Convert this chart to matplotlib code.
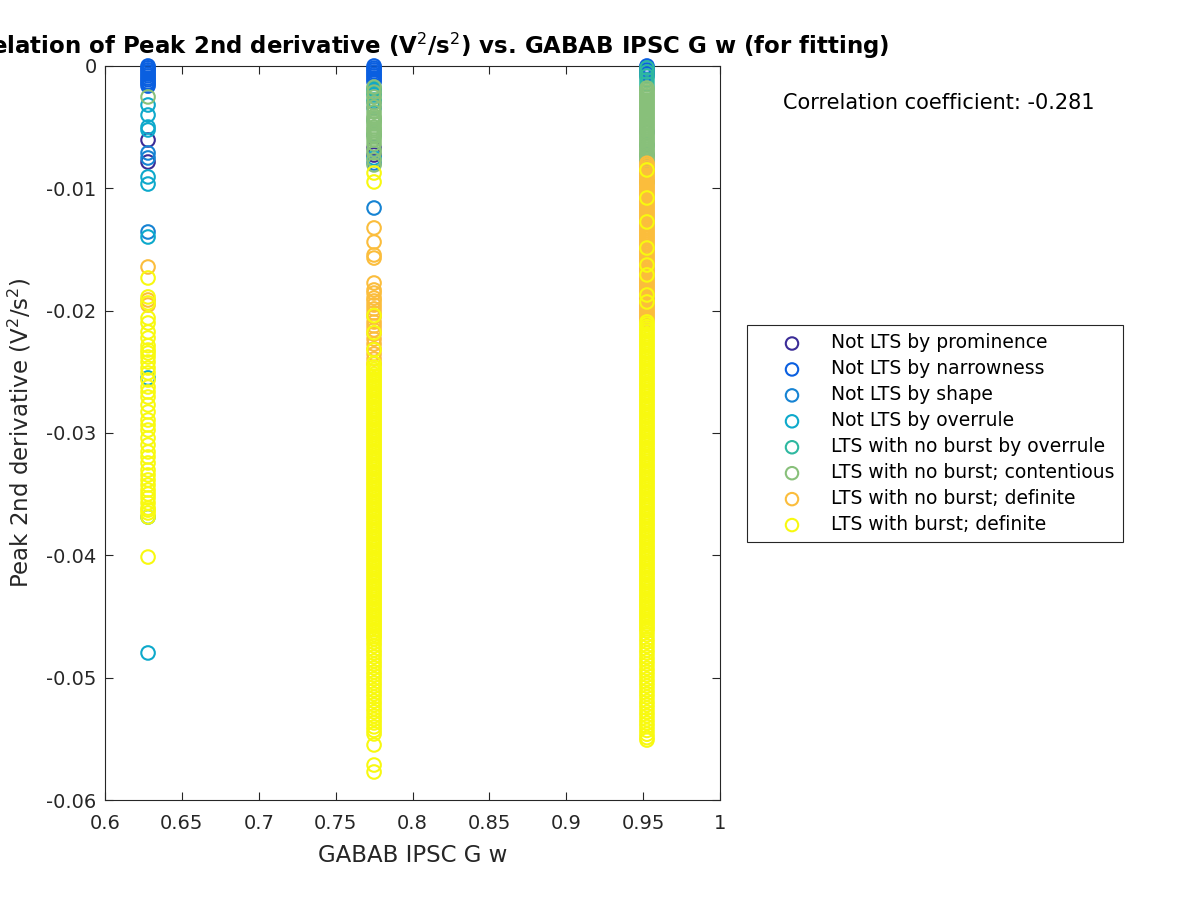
import numpy as np
import matplotlib
matplotlib.use("Agg")
import matplotlib.pyplot as plt

plt.rcParams['font.family'] = ['DejaVu Sans']
plt.rcParams['axes.unicode_minus'] = False

# x positions of the three parameter values
x_vals = [0.628, 0.775, 0.9525]

# legend labels and colours
labels = ["Not LTS by prominence", "Not LTS by narrowness", "Not LTS by shape",
          "Not LTS by overrule", "LTS with no burst by overrule",
          "LTS with no burst; contentious", "LTS with no burst; definite",
          "LTS with burst; definite"]
colors = ["#3b2c97", "#0a5fe0", "#1683d3", "#0da9cb", "#2eb8a0", "#88c07a",
          "#fbbd3c", "#f8f90f"]

# peak 2nd derivative magnitudes in units of 1e-4 V^2/s^2 (plotted negative)
# column 1: x = 0.628
c1_prom = [60.5, 78.5]
c1_narrow = [0, 1.5, 3.2, 4.8, 6.6, 8.1, 9.9, 11.3, 13.2, 14.6, 16.4]
c1_shape = [71.1, 75.2, 135.7]
c1_over = [31.9, 40.1, 49.9, 52.3, 90.7, 96.5, 139.8, 255.0, 368.7, 479.8]
c1_ltsover = []
c1_cont = [25.3]
c1_nob = [164.3, 191.3, 195.4]
c1_burst = [173.3, 188.8, 193.7, 206.0, 210.1, 217.4, 222.3, 228.6, 232.2, 234.6,
            237.9, 242.0, 246.9, 250.9, 256.7, 262.4, 266.5, 270.6, 277.1, 282.8,
            289.4, 293.5, 297.6, 304.1, 309.8, 315.5, 319.6, 324.5, 330.3, 334.3,
            338.4, 342.5, 346.6, 349.9, 353.1, 357.2, 361.4, 363.0, 365.4, 368.7,
            401.4]

# column 2: x = 0.775
c2_prom = [67.0, 72.8]
c2_narrow = [0, 1.7, 3.2, 4.9, 6.6, 8.1, 9.8, 11.5, 13.1]
c2_shape = [29.4, 34.3, 79.3, 116.1]
c2_over = [19.6, 23.7, 44.1, 56.4, 75.2]
c2_ltsover = [18.0, 22.1, 27.8]
c2_cont = [17.2, 21.3, 25.3, 30.2, 33.5, 37.6, 40.9, 42.5, 44.1, 45.8, 47.4, 49.9,
           51.5, 53.1, 54.8, 56.4, 58.0, 60.5, 63.8, 68.7, 71.1, 76.8, 80.9]
c2_nob = [132.4, 143.9, 154.5, 157.0, 177.4, 183.1, 185.6, 189.7, 192.1, 195.4,
          198.6, 201.9, 205.2, 209.3, 212.5, 215.8, 219.1, 223.2, 227.3, 231.3,
          235.4, 239.5, 243.6]
c2_burst = [87.5, 94.8, 204.0, 218.0, 232.0, 243.0,
            246.1, 248.0, 249.8, 251.9, 253.7, 255.6, 257.5, 259.4, 261.3, 263.1,
            265.2, 267.0, 268.9, 270.8, 272.7, 274.6, 276.4, 278.5, 280.3, 282.2,
            284.1, 286.0, 287.9, 289.7, 291.8, 293.6, 295.5, 297.4, 299.3, 301.2,
            303.0, 305.1, 306.9, 308.8, 310.7, 312.6, 314.5, 316.3, 318.4, 320.2,
            322.1, 324.0, 325.9, 327.8, 329.6, 331.7, 333.5, 335.4, 337.3, 339.2,
            341.1, 342.9, 345.0, 346.8, 348.7, 350.6, 352.5, 354.4, 356.2, 358.3,
            360.1, 362.0, 363.9, 365.8, 367.7, 369.5, 371.6, 373.4, 375.3, 377.2,
            379.1, 381.0, 382.8, 384.9, 386.7, 388.6, 390.5, 392.4, 394.3, 396.1,
            398.2, 400.0, 401.9, 403.8, 405.7, 407.6, 409.4, 411.5, 413.3, 415.2,
            417.1, 419.0, 420.9, 422.7, 424.8, 426.6, 428.5, 430.4, 432.3, 434.2,
            436.0, 438.1, 439.9, 441.8, 443.7, 445.6, 447.5, 449.3, 451.4, 453.2,
            455.1, 457.0, 458.9, 460.8, 462.6, 464.7, 466.5, 468.4, 471.2, 474.0,
            477.3, 480.1, 483.0, 486.2, 489.1, 492.0, 495.3, 498.1, 501.0, 504.2,
            507.1, 510.3, 513.2, 516.0, 519.2, 522.1, 525.3, 528.0, 531.2, 534.1,
            537.0, 540.2, 543.1, 546.0, 555.0, 571.4, 577.1]

# column 3: x = 0.9525
c3_prom = []
c3_narrow = [0, 1.6, 3.3, 4.9, 6.5, 8.2]
c3_shape = [54.0, 72.8, 85.0]
c3_over = [64.6, 94.8]
c3_ltsover = [1.6, 4.9, 8.2, 11.4, 14.7, 18.0]
c3_cont = [18.0, 19.7, 21.2, 22.9, 24.4, 26.1, 27.8, 29.3, 30.9, 32.6, 34.2, 35.8,
           37.5, 39.0, 40.7, 42.3, 43.9, 45.6, 47.1, 48.8, 50.4, 52.0, 53.7, 55.2,
           56.9, 58.5, 60.1, 61.8, 63.3, 65.0, 66.6, 68.2, 69.9, 71.4, 73.1, 74.7,
           76.3, 78.0]
c3_nob = [79.5, 81.1, 82.8, 84.3, 86.0, 87.6, 89.2, 90.9, 92.4, 94.1, 95.7, 97.3,
          99.0, 100.5, 102.2, 103.8, 105.4, 107.1, 108.6, 110.3, 111.9, 113.5, 115.2,
          116.7, 118.4, 120.0, 121.6, 123.3, 124.8, 126.5, 128.1, 129.7, 131.4, 132.9,
          134.6, 136.2, 137.8, 139.5, 141.0, 142.7, 144.3, 145.9, 147.6, 149.1, 150.8,
          152.4, 154.0, 155.7, 157.2, 158.9, 160.5, 162.1, 163.8, 165.3, 167.0, 168.6,
          170.2, 171.9, 173.4, 175.1, 176.7, 178.3, 180.0, 181.5, 183.2, 184.8, 186.4,
          188.1, 189.6, 191.3, 192.9, 194.5, 196.2, 197.7, 199.4, 201.0, 202.6, 204.3,
          205.8, 207.5]
c3_burst = [85.0, 107.9, 127.5, 148.8, 162.7, 170.8, 187.2, 192.9,
            209.2, 211.0, 213.1, 215.0, 216.8, 218.9, 220.7, 222.6, 224.5, 226.4,
            228.3, 230.1, 232.2, 234.0, 235.9, 237.8, 239.7, 241.6, 243.4, 245.5,
            247.3, 249.2, 251.1, 253.0, 254.9, 256.7, 258.8, 260.6, 262.5, 264.4,
            266.3, 268.2, 270.0, 272.1, 273.9, 275.8, 277.7, 279.6, 281.5, 283.3,
            285.4, 287.2, 289.1, 291.0, 292.9, 294.8, 296.6, 298.7, 300.5, 302.4,
            304.3, 306.2, 308.1, 309.9, 312.0, 313.8, 315.7, 317.6, 319.5, 321.4,
            323.2, 325.3, 327.1, 329.0, 330.9, 332.8, 334.7, 336.5, 338.6, 340.4,
            342.3, 344.2, 346.1, 348.0, 349.8, 351.9, 353.7, 355.6, 357.5, 359.4,
            361.3, 363.1, 365.2, 367.0, 368.9, 370.8, 372.7, 374.6, 376.4, 378.5,
            380.3, 382.2, 384.1, 386.0, 387.9, 389.7, 391.8, 393.6, 395.5, 397.4,
            399.3, 401.2, 403.0, 405.1, 406.9, 408.8, 410.7, 412.6, 414.5, 416.3,
            418.4, 420.2, 422.1, 424.0, 425.9, 427.8, 429.6, 431.7, 433.5, 435.4,
            437.3, 439.2, 441.1, 442.9, 445.0, 446.8, 448.7, 450.6, 452.5, 454.4,
            456.2, 458.3, 460.1, 462.0, 465.0, 468.2, 471.0, 474.1, 477.3, 480.0,
            483.2, 486.1, 489.0, 492.3, 495.1, 498.0, 501.2, 504.1, 507.0, 510.2,
            513.1, 516.0, 519.3, 522.1, 525.0, 528.2, 531.1, 534.3, 537.2, 540.0,
            543.1, 546.2, 549.0, 551.0]

corr_coef = -0.281

groups = [
    [c1_prom, c2_prom, c3_prom],
    [c1_narrow, c2_narrow, c3_narrow],
    [c1_shape, c2_shape, c3_shape],
    [c1_over, c2_over, c3_over],
    [c1_ltsover, c2_ltsover, c3_ltsover],
    [c1_cont, c2_cont, c3_cont],
    [c1_nob, c2_nob, c3_nob],
    [c1_burst, c2_burst, c3_burst],
]

fig = plt.figure(figsize=(12, 9), dpi=100)
ax = fig.add_axes([0.0875, 0.1111, 0.5125, 0.8156])

for lab, col, cols_data in zip(labels, colors, groups):
    xs, ys = [], []
    for xv, vals in zip(x_vals, cols_data):
        xs += [xv] * len(vals)
        ys += list(-np.array(vals) * 1e-4)
    ax.scatter(xs, ys, s=95, facecolors='none', edgecolors=col,
               linewidths=1.5, label=lab, clip_on=False, zorder=3)

ax.set_xlim(0.6, 1.0)
ax.set_ylim(-0.06, 0)
ax.set_xticks([0.6, 0.65, 0.7, 0.75, 0.8, 0.85, 0.9, 0.95, 1.0])
ax.set_yticks([-0.06, -0.05, -0.04, -0.03, -0.02, -0.01, 0])
ax.xaxis.set_major_formatter(matplotlib.ticker.FormatStrFormatter('%g'))
ax.yaxis.set_major_formatter(matplotlib.ticker.FormatStrFormatter('%g'))
ax.tick_params(direction='in', length=6, width=0.8, labelsize=14,
               top=True, right=True, colors='#262626', pad=6)
ax.tick_params(axis='x', pad=10)
for sp in ax.spines.values():
    sp.set_color('#262626')
    sp.set_linewidth(0.8)

ax.set_xlabel('GABAB IPSC G w', fontsize=16.5, color='#262626', labelpad=8)
ax.set_ylabel('Peak 2nd derivative (V$^2$/s$^2$)', fontsize=16.5, color='#262626',
              labelpad=9)
ax.set_title('Correlation of Peak 2nd derivative (V$^2$/s$^2$) vs. GABAB IPSC G w (for fitting)',
             fontsize=16.5, fontweight='bold', pad=9)

fig.text(0.6525, 0.8856, 'Correlation coefficient: %.3f' % corr_coef,
         fontsize=15, va='center', ha='left')

leg = ax.legend(loc='upper left', bbox_to_anchor=(0.6225, 0.6389),
                bbox_transform=fig.transFigure, borderaxespad=0,
                fancybox=False, edgecolor='#262626', fontsize=13.5,
                handletextpad=0.15, borderpad=0.45, labelspacing=0.37,
                handlelength=3.9, framealpha=1)
leg.get_frame().set_linewidth(0.8)
for h in leg.legend_handles:
    h.set_sizes([80])

fig.savefig('out.png', dpi=100)
